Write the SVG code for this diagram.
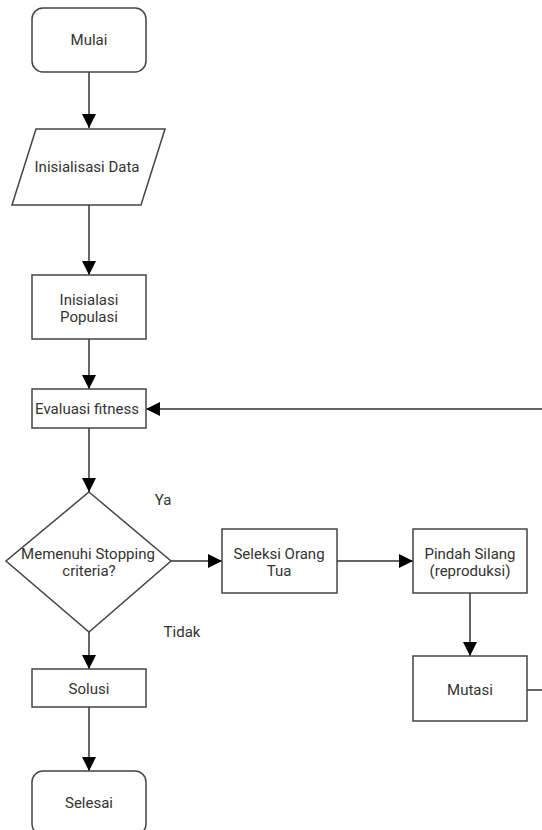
<svg xmlns="http://www.w3.org/2000/svg" width="542" height="830" viewBox="0 0 542 830">
<style>
.n{fill:#fff;stroke:#444;stroke-width:1.5}
.t{font-family:Roboto,"Liberation Sans",sans-serif;font-size:15px;fill:#333;text-anchor:middle}
.c{fill:none;stroke:#333;stroke-width:1.5}
</style>
<defs>
<marker id="ah" markerUnits="userSpaceOnUse" markerWidth="14" markerHeight="14" viewBox="0 0 14 14" refX="14" refY="7" orient="auto">
<path d="M0,0 L14,7 L0,14 z" fill="#000"/>
</marker>
</defs>
<rect width="542" height="830" fill="#fff"/>
<g id="connectors">
<path class="c" d="M89,72 V128" marker-end="url(#ah)"/>
<path class="c" d="M89,205 V275" marker-end="url(#ah)"/>
<path class="c" d="M89,339 V389" marker-end="url(#ah)"/>
<path class="c" d="M89,428 V492" marker-end="url(#ah)"/>
<path class="c" d="M171,561 H222" marker-end="url(#ah)"/>
<path class="c" d="M337,561 H413" marker-end="url(#ah)"/>
<path class="c" d="M470,593 V656" marker-end="url(#ah)"/>
<path class="c" d="M89,632 V669" marker-end="url(#ah)"/>
<path class="c" d="M89,707 V771" marker-end="url(#ah)"/>
<path class="c" d="M527,690 H560 V409 H146" marker-end="url(#ah)"/>
<text class="t" x="163" y="505">Ya</text>
<text class="t" x="182" y="637">Tidak</text>
</g>
<g id="mulai"><rect class="n" x="32" y="8" width="114" height="64" rx="11"/><text class="t" x="89" y="45">Mulai</text></g>
<g id="data"><polygon class="n" points="36,129 165,129 141,205 12,205"/><text class="t" x="87" y="172">Inisialisasi Data</text></g>
<g id="populasi"><rect class="n" x="32" y="275" width="114" height="64"/><text class="t" x="89" y="305">Inisialasi</text><text class="t" x="89" y="322">Populasi</text></g>
<g id="evaluasi"><rect class="n" x="32" y="389" width="114" height="39"/><text class="t" x="87" y="414">Evaluasi fitness</text></g>
<g id="stopping"><polygon class="n" points="89,492 171,561 89,632 6,561"/><text class="t" x="88" y="559">Memenuhi Stopping</text><text class="t" x="89" y="576">criteria?</text></g>
<g id="seleksi"><rect class="n" x="222" y="529" width="115" height="64"/><text class="t" x="279" y="559">Seleksi Orang</text><text class="t" x="279" y="576">Tua</text></g>
<g id="pindah"><rect class="n" x="413" y="529" width="114" height="64"/><text class="t" x="470" y="559">Pindah Silang</text><text class="t" x="470" y="576">(reproduksi)</text></g>
<g id="mutasi"><rect class="n" x="413" y="656" width="114" height="65"/><text class="t" x="470" y="695">Mutasi</text></g>
<g id="solusi"><rect class="n" x="32" y="669" width="114" height="38"/><text class="t" x="89" y="694">Solusi</text></g>
<g id="selesai"><rect class="n" x="32" y="771" width="114" height="64" rx="11"/><text class="t" x="89" y="808">Selesai</text></g>
</svg>
